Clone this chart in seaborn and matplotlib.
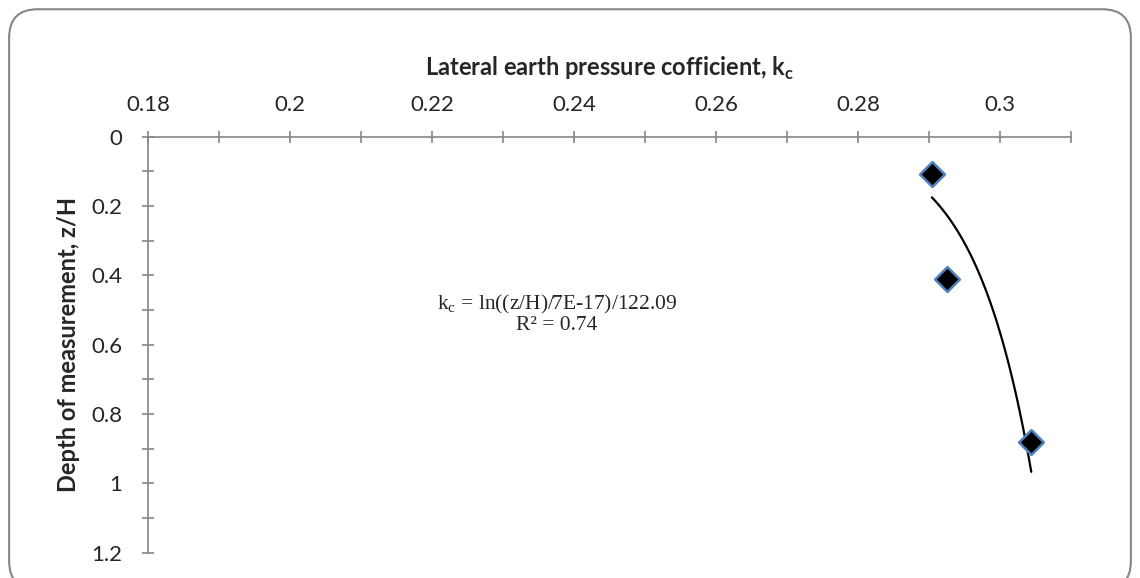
import numpy as np
import pandas as pd
import matplotlib
matplotlib.use("Agg")
import matplotlib.pyplot as plt
from matplotlib.patches import FancyBboxPatch
from matplotlib.ticker import MultipleLocator, FuncFormatter
import seaborn as sns

# measured points
kc = [0.2904, 0.2926, 0.3044]
depth = [0.107, 0.411, 0.882]

# exponential trend line z/H = a*exp(b*kc), coefficients as printed on the chart
trend_a = 7e-17
trend_b = 122.09
trend_label = "k$_\\mathregular{c}$ = ln((z/H)/7E-17)/122.09\nR² = 0.74"

x_ticks_major = 0.02
x_ticks_minor = 0.01
x_range = (0.18, 0.31)
y_range = (1.2, 0)

sns.set_style("white")
plt.rcParams['font.family'] = ['Lato', 'DejaVu Sans']

df = pd.DataFrame({'kc': kc, 'depth': depth})
k_line = np.linspace(min(kc), max(kc), 100)
trend = pd.DataFrame({'kc': k_line, 'depth': trend_a * np.exp(trend_b * k_line)})

fig = plt.figure(figsize=(11.4, 5.78), dpi=100)
ax = fig.add_axes([0.1298, 0.0438, 0.8097, 0.7197])

# chart border
border = FancyBboxPatch((0.008, -0.02), 0.984, 1.004, boxstyle="round,pad=0,rounding_size=0.025",
                        transform=fig.transFigure, fill=False, edgecolor='#868686', linewidth=1.5,
                        mutation_aspect=1140 / 578)
fig.patches.append(border)

sns.lineplot(data=trend, x='kc', y='depth', color='black', linewidth=1.6, sort=False,
             estimator=None, ax=ax)
sns.scatterplot(data=df, x='kc', y='depth', marker='D', s=160, color='black',
                edgecolor='#4F81BD', linewidth=1.8, ax=ax, zorder=3)

ax.set_xlim(*x_range)
ax.set_ylim(*y_range)
ax.xaxis.tick_top()
ax.xaxis.set_label_position('top')
ax.xaxis.set_major_locator(MultipleLocator(x_ticks_major))
ax.xaxis.set_minor_locator(MultipleLocator(x_ticks_minor))
ax.yaxis.set_major_locator(MultipleLocator(0.2))
ax.yaxis.set_minor_locator(MultipleLocator(0.1))
fmt = FuncFormatter(lambda v, p: '{:g}'.format(round(v, 4)))
ax.xaxis.set_major_formatter(fmt)
ax.yaxis.set_major_formatter(fmt)

for s in ['right', 'bottom']:
    ax.spines[s].set_visible(False)
for s in ['left', 'top']:
    ax.spines[s].set_color('#868686')
    ax.spines[s].set_linewidth(1.2)

ax.tick_params(which='both', direction='inout', length=9, width=1.2, color='#868686',
               labelsize=16, left=True, top=True)
ax.tick_params(axis='x', which='major', pad=11)
ax.tick_params(axis='y', which='major', pad=14)

ax.set_xlabel('Lateral earth pressure cofficient, k$_\\mathregular{c}$', fontsize=17,
              fontweight='bold', labelpad=14)
ax.set_ylabel('Depth of measurement, z/H', fontsize=17, fontweight='bold', labelpad=8)

ax.text(0.2376, 0.512, trend_label, ha='center', va='center', fontsize=15.5,
        family=['Liberation Serif', 'DejaVu Serif'], linespacing=1.0)

fig.savefig('out.png', dpi=100)
